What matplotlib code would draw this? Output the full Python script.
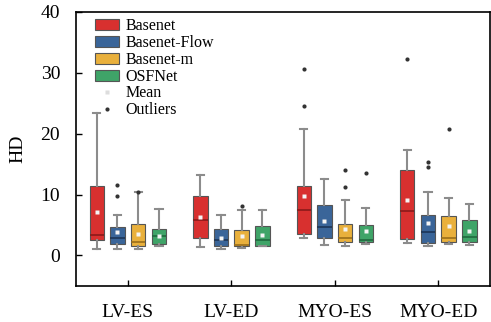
import matplotlib
matplotlib.use("Agg")
import matplotlib.pyplot as plt
from matplotlib.patches import Patch
from matplotlib.lines import Line2D

plt.rcParams['font.family'] = ['Liberation Serif', 'DejaVu Serif']

categories = ["LV-ES", "LV-ED", "MYO-ES", "MYO-ED"]
methods = ["Basenet", "Basenet-Flow", "Basenet-m", "OSFNet"]
colors = ["#d8302f", "#3a6599", "#e9b03c", "#3fa468"]
medcolors = ["#8a1a1a", "#1c3557", "#9a6e1a", "#1f6a3e"]

# stats per method, per category: [whislo, q1, med, q3, whishi]
basenet_stats = [[1.1, 2.5, 3.3, 11.4, 23.4],
                 [1.4, 2.9, 5.8, 9.7, 13.3],
                 [2.9, 3.55, 7.5, 11.4, 20.7],
                 [2.1, 2.7, 7.3, 14.1, 17.3]]
flow_stats = [[1.1, 1.9, 2.95, 4.7, 6.6],
              [1.1, 1.6, 2.5, 4.4, 6.7],
              [1.7, 2.8, 4.7, 8.3, 12.5],
              [1.5, 2.1, 3.9, 6.7, 10.4]]
m_stats = [[1.1, 1.6, 2.2, 5.1, 10.4],
           [1.25, 1.5, 1.8, 4.2, 7.4],
           [1.5, 2.2, 2.8, 5.2, 9.1],
           [1.9, 2.2, 2.8, 6.5, 9.4]]
osf_stats = [[1.5, 1.9, 3.2, 4.4, 7.7],
             [1.5, 1.6, 2.6, 4.9, 7.4],
             [1.9, 2.2, 2.6, 5.0, 7.75],
             [1.75, 2.2, 3.0, 5.9, 8.4]]

basenet_means = [7.2, 6.4, 9.8, 9.1]
flow_means = [3.9, 2.9, 5.6, 5.3]
m_means = [3.6, 3.2, 4.3, 4.85]
osf_means = [3.2, 3.4, 4.0, 4.1]

basenet_out = [[], [], [30.7, 24.5], [32.3]]
flow_out = [[11.6, 9.7], [], [], [15.3, 14.5]]
m_out = [[10.4], [8.1], [14.0, 11.3], [20.7]]
osf_out = [[], [], [13.6], []]

all_stats = [basenet_stats, flow_stats, m_stats, osf_stats]
all_means = [basenet_means, flow_means, m_means, osf_means]
all_out = [basenet_out, flow_out, m_out, osf_out]

fig = plt.figure(figsize=(4.91, 3.22), dpi=100)
ax = fig.add_axes([0.155, 0.112, 0.843, 0.851])

offsets = [-0.3, -0.1, 0.1, 0.3]
for k in range(4):
    bxpstats = []
    for i in range(4):
        lo, q1, med, q3, hi = all_stats[k][i]
        bxpstats.append(dict(whislo=lo, q1=q1, med=med, q3=q3, whishi=hi,
                             mean=all_means[k][i], fliers=all_out[k][i]))
    pos = [i + offsets[k] for i in range(4)]
    ax.bxp(bxpstats, positions=pos, widths=0.14, patch_artist=True,
           showmeans=True, showfliers=True,
           boxprops=dict(facecolor=colors[k], edgecolor="#555555", linewidth=0.8),
           medianprops=dict(color=medcolors[k], linewidth=1.2),
           whiskerprops=dict(color="#8c8c8c", linewidth=1.5),
           capprops=dict(color="#8c8c8c", linewidth=1.5),
           meanprops=dict(marker='s', markerfacecolor='#f4f4f4', markeredgecolor='none', markersize=2.5),
           flierprops=dict(marker='o', markerfacecolor='#333333', markeredgecolor='none', markersize=3),
           manage_ticks=False, zorder=3)

ax.set_xlim(-0.5, 3.5)
ax.set_ylim(-5, 40)
ax.set_xticks(range(4))
ax.set_xticklabels(categories)
ax.set_yticks([0, 10, 20, 30, 40])
ax.tick_params(direction='in', labelsize=14, length=4, width=1)
ax.tick_params(axis='x', pad=13)
ax.tick_params(axis='y', pad=11.5)
ax.set_ylabel("HD", fontsize=14, labelpad=10)
for s in ax.spines.values():
    s.set_linewidth(1.2)

handles = [Patch(facecolor=colors[k], edgecolor="#555555", linewidth=0.8, label=methods[k]) for k in range(4)]
handles.append(Line2D([], [], linestyle='none', marker='s', markerfacecolor='#dddddd',
                      markeredgecolor='none', markersize=2.5, label="Mean"))
handles.append(Line2D([], [], linestyle='none', marker='o', markerfacecolor='#333333',
                      markeredgecolor='none', markersize=3, label="Outliers"))
ax.legend(handles=handles, loc='upper left', frameon=False, fontsize=11.5,
          labelspacing=0.05, handlelength=1.5, handleheight=0.7, handletextpad=0.4,
          borderaxespad=0.0, bbox_to_anchor=(0.03, 1.0))

fig.savefig("out.png", dpi=100)
